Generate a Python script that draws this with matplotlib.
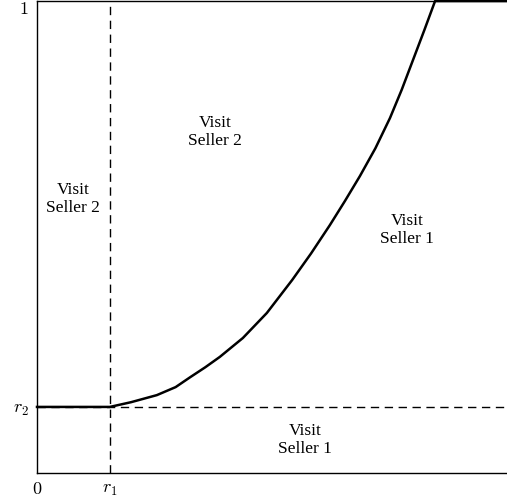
import matplotlib
matplotlib.use("Agg")
import matplotlib.pyplot as plt

plt.rcParams['mathtext.fontset'] = 'cm'
plt.rcParams['font.family'] = ['Liberation Serif', 'DejaVu Serif']

r1 = 0.155
r2 = 0.140
boundary_x = [0.0, 0.155, 0.200, 0.255, 0.295, 0.326, 0.358, 0.389, 0.438, 0.489, 0.543, 0.583, 0.623, 0.655,
              0.687, 0.720, 0.751, 0.776, 0.800, 0.824, 0.847, 1.0]
boundary_y = [0.140, 0.140, 0.150, 0.165, 0.182, 0.203, 0.224, 0.246, 0.286, 0.339, 0.409, 0.465, 0.525, 0.576,
              0.629, 0.688, 0.752, 0.812, 0.875, 0.938, 1.0, 1.0]

labels = ["Visit\nSeller 2", "Visit\nSeller 2", "Visit\nSeller 1", "Visit\nSeller 1"]
label_x = [0.077, 0.379, 0.787, 0.570]
label_y = [0.58, 0.722, 0.515, 0.070]

tick_x = [0, r1]
tick_x_labels = ['$0$', '$r_1$']
tick_y = [r2, 1]
tick_y_labels = ['$r_2$', '$1$']

fig = plt.figure(figsize=(5.07, 4.97), dpi=100)
ax = fig.add_axes([37/507, 24/497, 470/507, 472/497])
ax.set_xlim(0, 1)
ax.set_ylim(0, 1)

ax.plot([r1, r1], [0, 1], color='black', lw=1.0, ls=(0, (6, 4)))
ax.plot([0, 1], [r2, r2], color='black', lw=1.0, ls=(0, (6, 4)))
ax.plot(boundary_x, boundary_y, color='black', lw=1.8, solid_joinstyle='round', clip_on=False)

for t, x, y in zip(labels, label_x, label_y):
    ax.text(x, y, t, ha='center', va='center', fontsize=12.5, linespacing=1.2)

ax.spines['right'].set_visible(False)
for s in ['left', 'bottom', 'top']:
    ax.spines[s].set_linewidth(1.0)

ax.set_xticks(tick_x)
ax.set_xticklabels(tick_x_labels, fontsize=13)
ax.set_yticks(tick_y)
ax.set_yticklabels(tick_y_labels, fontsize=13)
ax.tick_params(length=0, pad=6)
ax.get_yticklabels()[1].set_verticalalignment('top')

fig.savefig("out.png", dpi=100)
